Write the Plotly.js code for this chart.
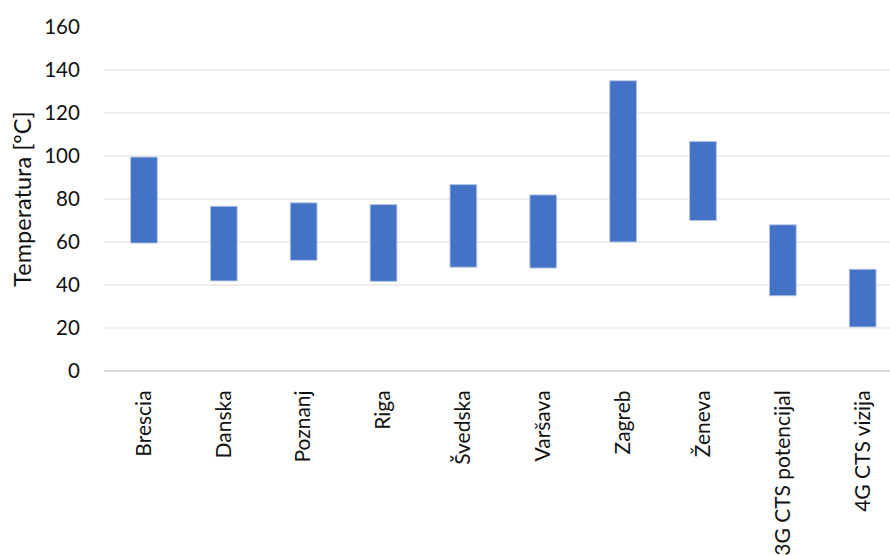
<!DOCTYPE html>
<html>
<head>
<meta charset="utf-8">
<script src="https://cdn.plot.ly/plotly-3.0.1.min.js"></script>
<style>html,body{margin:0;padding:0;background:#fff;}#chart{width:890px;height:556px;}</style>
</head>
<body>
<div id="chart"></div>
<script>
const categories = ["Brescia","Danska","Poznanj","Riga","Švedska","Varšava","Zagreb","Ženeva","3G CTS potencijal","4G CTS vizija"];
const lowValues  = [59.5, 41.9, 51.5, 41.7, 48.3, 47.9, 60, 70, 35, 20.5];
const highValues = [99.5, 76.6, 78.2, 77.4, 86.7, 81.9, 135, 106.8, 68, 47.3];
const yTicks = [0,20,40,60,80,100,120,140,160];

const spans = highValues.map((h,i)=>h-lowValues[i]);
const xIdx = categories.map((c,i)=>i);

const font = "Lato, 'DejaVu Sans', sans-serif";

Plotly.newPlot('chart', [{
  type:'bar',
  x: xIdx,
  y: spans,
  base: lowValues,
  width: 0.335,
  marker:{color:'#4472C4', line:{color:'rgba(180,199,231,0.9)', width:1}},
  hoverinfo:'skip'
}], {
  width:890, height:556,
  margin:{l:104, r:0, t:27, b:185, pad:0},
  paper_bgcolor:'#fff', plot_bgcolor:'#fff',
  showlegend:false,
  font:{family:font, size:20, color:'#111'},
  xaxis:{
    range:[-0.5, 9.342],
    tickmode:'array', tickvals:xIdx, ticktext:categories,
    tickangle:-90, ticks:'outside', ticklen:10, tickcolor:'rgba(0,0,0,0)',
    showgrid:false, zeroline:false, showline:false,
    tickfont:{family:font, size:21, color:'#111'}
  },
  yaxis:{
    range:[0,160], tickmode:'array', tickvals:yTicks,
    showgrid:true, gridcolor:'#efefef', gridwidth:1.5,
    zeroline:true, zerolinecolor:'#d9d9d9', zerolinewidth:1.5,
    ticks:'outside', ticklen:19, tickcolor:'rgba(0,0,0,0)',
    tickfont:{family:font, size:20.5, color:'#111'},
    title:{text:'Temperatura [ºC]', font:{family:font, size:23.5, color:'#111'}, standoff:6}
  }
}, {displayModeBar:false, staticPlot:true});
</script>
</body>
</html>
